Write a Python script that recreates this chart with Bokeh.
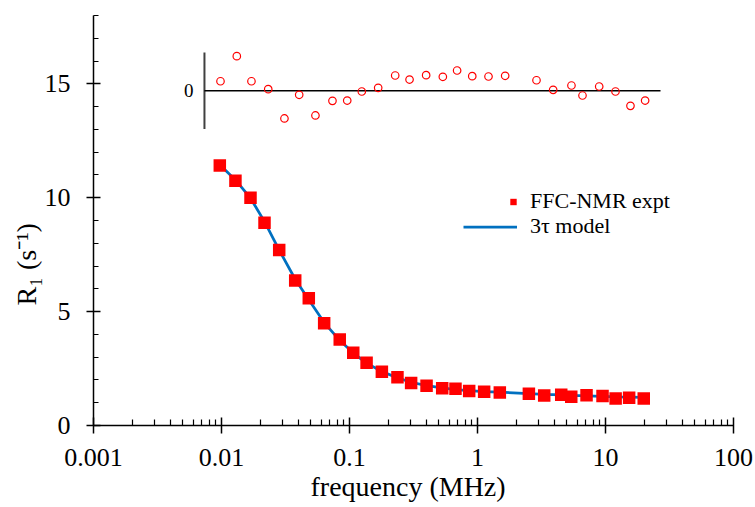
from bokeh.plotting import figure
from bokeh.models import (Range1d, Legend, LegendItem, Label, FixedTicker, Title,
                          SingleIntervalTicker, CustomJSTickFormatter)
from bokeh.embed import file_html
from bokeh.resources import INLINE

# ---- data ----
freq_mhz = [0.0097, 0.01285, 0.01685, 0.02168, 0.02824, 0.03766, 0.04808, 0.0634,
            0.0839, 0.107, 0.136, 0.179, 0.237, 0.303, 0.400, 0.530, 0.673, 0.861,
            1.127, 1.494, 2.52, 3.32, 4.51, 5.40, 7.11, 9.48, 12.0, 15.3, 19.9]
r1_expt = [11.41, 10.75, 10.0, 8.90, 7.70, 6.37, 5.59, 4.49, 3.78, 3.19, 2.75, 2.36,
           2.12, 1.87, 1.74, 1.64, 1.61, 1.52, 1.48, 1.45, 1.39, 1.32, 1.35, 1.26,
           1.33, 1.29, 1.19, 1.22, 1.19]
model_freq = [0.0097, 0.01285, 0.01685, 0.02168, 0.02824, 0.03766, 0.04808, 0.0634,
              0.0839, 0.107, 0.136, 0.179, 0.237, 0.303, 0.400, 0.530, 0.673, 0.861,
              1.127, 1.494, 2.52, 3.32, 4.51, 5.40, 7.11, 9.48, 12.0, 15.3, 19.9]
model_r1 = [11.45, 10.78, 9.98, 8.95, 7.70, 6.42, 5.52, 4.52, 3.74, 3.18, 2.74, 2.37,
            2.09, 1.90, 1.75, 1.65, 1.58, 1.53, 1.49, 1.46, 1.40, 1.37, 1.34, 1.32,
            1.30, 1.28, 1.26, 1.25, 1.23]
res_freq = [0.00982, 0.01317, 0.01714, 0.02318, 0.03103, 0.04045, 0.0542, 0.0736,
            0.0960, 0.1248, 0.1675, 0.2275, 0.2945, 0.397, 0.536, 0.693, 0.910, 1.219,
            1.645, 2.89, 3.90, 5.42, 6.61, 8.93, 11.97, 15.67, 20.4]
res_pct = [1.25, 4.52, 1.25, 0.21, -3.61, -0.52, -3.22, -1.31, -1.27, -0.09, 0.39, 2.00,
           1.47, 2.04, 1.83, 2.65, 1.91, 1.87, 1.96, 1.38, 0.13, 0.69, -0.61, 0.56,
           -0.09, -1.96, -1.27]
x_ticks = [0.001, 0.01, 0.1, 1, 10, 100]

# ---- layout settings ----
X_MIN, X_MAX = 0.001, 100
Y_MIN, Y_MAX = 0, 18
INSET_F_MIN, INSET_F_MAX = 0.00736, 26.9
RES_HALF = 5.0          # inset axis half-height (residual units)
RES_ZERO_MAIN = 14.694  # where residual zero sits on main axis
RES_HALF_MAIN = 1.6815  # inset half-height in main axis units
res_scale = RES_HALF / RES_HALF_MAIN

SERIF = "Liberation Serif"
RED = "#FF0000"
BLUE = "#0070C0"

p = figure(width=755, height=507, x_axis_type="log",
           x_range=Range1d(X_MIN, X_MAX), y_range=Range1d(Y_MIN, Y_MAX),
           output_backend="svg", toolbar_location=None,
           min_border_left=93, min_border_right=22, min_border_top=15,
           min_border_bottom=82)
p.outline_line_color = None
p.xgrid.visible = False
p.ygrid.visible = False
p.background_fill_color = "white"

p.extra_y_ranges = {"resid": Range1d(-RES_ZERO_MAIN * res_scale,
                                     (Y_MAX - RES_ZERO_MAIN) * res_scale)}

# axes
minor = [m * t for t in x_ticks[:-1] for m in range(2, 10)]
p.xaxis.ticker = FixedTicker(ticks=x_ticks, minor_ticks=minor)
p.xaxis.formatter = CustomJSTickFormatter(code="return tick.toString();")
p.yaxis.ticker = SingleIntervalTicker(interval=5, num_minor_ticks=5)
for ax in (p.xaxis[0], p.yaxis[0]):
    ax.axis_line_color = "black"
    ax.axis_line_width = 1.5
    ax.major_tick_line_color = "black"
    ax.minor_tick_line_color = "black"
    ax.major_tick_line_width = 1.5
    ax.minor_tick_line_width = 1.2
    ax.major_label_text_font = SERIF
    ax.major_label_text_font_size = "26px"
    ax.major_label_text_color = "black"
p.xaxis.major_tick_in = 8
p.xaxis.major_tick_out = 8
p.xaxis.minor_tick_in = 6
p.xaxis.minor_tick_out = 0
p.xaxis.major_label_standoff = 15
p.yaxis.major_tick_in = 7
p.yaxis.major_tick_out = 7
p.yaxis.minor_tick_in = 5
p.yaxis.minor_tick_out = 0
p.yaxis.major_label_standoff = 16

# main data
ln = p.line(model_freq, model_r1, line_color=BLUE, line_width=2.75)
sq = p.scatter(freq_mhz, r1_expt, marker="square", size=12.5,
               fill_color=RED, line_color=None)

# inset residuals
p.segment(x0=[INSET_F_MIN], y0=[-RES_HALF], x1=[INSET_F_MIN], y1=[RES_HALF],
          y_range_name="resid", line_color="#404040", line_width=2)
p.segment(x0=[INSET_F_MIN], y0=[0], x1=[INSET_F_MAX], y1=[0],
          y_range_name="resid", line_color="black", line_width=1.5)
p.scatter(res_freq, res_pct, y_range_name="resid", marker="circle", size=7.5,
          fill_color=None, line_color=RED, line_width=1.2)
p.add_layout(Label(x=INSET_F_MIN, y=0, y_range_name="resid", x_offset=-11,
                   text="0", text_align="right", text_baseline="middle",
                   text_font=SERIF, text_font_size="19px", text_color="black"))

# legends
leg_common = dict(padding=0, margin=0, spacing=0, border_line_color=None,
                  background_fill_alpha=0, label_text_font=SERIF,
                  label_text_font_size="22px", label_text_color="black",
                  glyph_height=25, label_height=25)
leg1 = Legend(items=[LegendItem(label="FFC-NMR expt", renderers=[sq])],
              location=(412, 211), glyph_width=16, label_standoff=9, **leg_common)
leg2 = Legend(items=[LegendItem(label="3τ model", renderers=[ln])],
              location=(370, 186), glyph_width=54, label_standoff=13, **leg_common)
p.add_layout(leg1)
p.add_layout(leg2)

# axis titles
p.add_layout(Title(text="frequency (MHz)", align="left", offset=217, standoff=0,
                   text_font=SERIF, text_font_size="28px", text_font_style="normal",
                   text_color="black"), "below")
p.add_layout(Title(text="R₁ (s⁻¹)", align="left", offset=120, standoff=0,
                   text_font=SERIF, text_font_size="28px", text_font_style="normal",
                   text_color="black"), "left")

open("out.html", "w").write(file_html(p, INLINE))
